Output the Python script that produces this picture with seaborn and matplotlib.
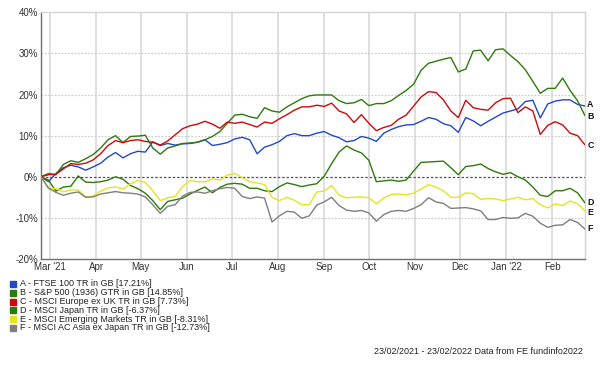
import matplotlib
matplotlib.use("Agg")
import matplotlib.pyplot as plt
from matplotlib.patches import Rectangle
import seaborn as sns
import pandas as pd
import numpy as np

# 5-day sampled cumulative returns, 23/02/2021 -> 23/02/2022
dates = pd.date_range("2021-02-23", "2022-02-23", periods=74)

ftse100 = [0, -1.2, 0.8, 2.2, 2.8, 2.4, 1.6, 2.4, 3.3, 4.8, 5.9, 4.6, 5.6, 6.2, 6.0, 8.5,
           7.6, 8.1, 7.7, 8.0, 8.1, 8.4, 9.0, 7.6, 7.9, 8.3, 9.2, 9.6, 9.0, 5.6, 7.2, 7.8,
           8.6, 10.0, 10.5, 10.0, 10.0, 10.6, 11.0, 10.1, 9.5, 8.5, 8.8, 9.8, 9.4, 8.6, 10.6,
           11.5, 12.2, 12.6, 12.7, 13.5, 14.4, 14.0, 12.9, 12.4, 10.8, 14.4, 13.6, 12.4, 13.5,
           14.5, 15.5, 16.0, 16.5, 18.3, 18.6, 14.3, 17.7, 18.4, 18.7, 18.7, 17.6, 17.21]
sp500 = [0, 0.8, 0.5, 3.0, 3.9, 3.5, 4.4, 5.4, 7.0, 9.0, 10.0, 8.3, 9.8, 9.9, 10.1, 7.0,
         5.5, 7.0, 7.5, 8.1, 8.2, 8.4, 9.0, 9.8, 11.0, 13.0, 15.0, 15.2, 14.6, 14.2, 16.8,
         16.0, 15.7, 17.0, 18.0, 19.0, 19.7, 19.9, 19.9, 19.9, 18.5, 17.8, 18.0, 18.8, 17.3,
         17.8, 17.8, 18.5, 19.8, 21.0, 22.5, 25.9, 27.6, 28.1, 28.6, 29.0, 25.5, 26.2, 30.6,
         30.8, 28.2, 30.9, 31.1, 29.5, 28.0, 26.0, 23.2, 20.3, 21.5, 21.5, 24.0, 21.0, 18.5, 14.85]
europe_ex_uk = [0, 0.5, 0.6, 1.9, 3.2, 3.0, 3.3, 4.1, 5.6, 7.6, 8.8, 8.3, 8.8, 9.0, 8.6, 8.4,
                7.7, 8.7, 10.2, 11.7, 12.4, 12.8, 13.5, 12.8, 11.8, 13.3, 13.0, 13.3, 12.7, 12.1,
                13.3, 13.0, 14.1, 15.1, 16.2, 17.0, 17.0, 17.4, 17.1, 17.9, 16.0, 15.3, 13.2, 15.1,
                13.0, 11.2, 12.0, 12.5, 14.0, 15.0, 17.2, 19.4, 20.7, 20.5, 18.7, 16.0, 14.4, 18.6,
                16.8, 16.4, 16.2, 18.0, 19.0, 19.1, 15.6, 17.0, 16.0, 10.3, 12.5, 13.4, 12.6, 10.6,
                10.0, 7.73]
japan = [0, -0.8, -3.5, -2.5, -2.3, 0.2, -1.3, -1.4, -1.2, -0.8, 0.0, -0.6, -2.1, -2.9, -4.0,
         -5.8, -8.0, -6.0, -5.6, -5.2, -4.2, -3.3, -2.5, -3.9, -2.6, -1.8, -1.6, -1.8, -2.8, -2.8,
         -3.4, -3.6, -2.4, -1.5, -1.9, -2.4, -2.0, -1.7, 0.1, 3.2, 6.0, 7.5, 6.5, 5.8, 4.0, -1.2,
         -1.0, -0.8, -1.1, -0.8, 1.4, 3.5, 3.6, 3.7, 3.8, 2.2, 0.5, 2.5, 2.7, 3.1, 2.0, 1.2, 0.6,
         1.0, 0.0, -0.8, -2.5, -4.5, -4.8, -3.4, -3.4, -2.8, -3.9, -6.37]
emerging = [0, -3.0, -2.8, -3.7, -3.2, -3.2, -4.9, -4.7, -3.5, -2.7, -2.5, -3.0, -1.7, -0.9,
            -1.4, -3.4, -5.8, -5.1, -4.8, -2.4, -0.9, -1.2, -1.2, -0.5, -0.8, 0.4, 0.8, -0.2, -1.2,
            -1.5, -1.9, -5.0, -5.8, -5.0, -5.7, -6.8, -6.8, -3.7, -3.5, -2.1, -4.5, -5.1, -5.0,
            -4.9, -5.1, -6.6, -5.2, -4.3, -4.2, -4.4, -4.0, -3.0, -1.9, -2.5, -3.4, -5.0, -5.0,
            -3.9, -4.1, -5.5, -5.3, -5.4, -5.8, -5.4, -5.0, -5.6, -5.3, -6.8, -7.6, -6.6, -7.0,
            -5.9, -6.5, -8.31]
asia_ex_japan = [0, -2.7, -3.8, -4.5, -4.0, -3.7, -5.0, -4.9, -4.2, -3.9, -3.6, -3.9, -4.0,
                 -4.2, -4.9, -6.8, -8.9, -7.2, -6.8, -4.7, -3.8, -3.7, -4.0, -3.4, -2.9, -2.6,
                 -2.8, -4.8, -5.3, -4.9, -5.2, -11.0, -9.5, -8.4, -8.6, -10.1, -9.5, -6.9, -6.1,
                 -5.0, -7.0, -8.1, -8.4, -8.2, -8.8, -10.8, -9.2, -8.4, -8.2, -8.4, -7.7, -6.8,
                 -5.1, -6.1, -6.5, -7.7, -7.6, -7.5, -7.8, -8.3, -10.4, -10.4, -9.9, -10.1, -10.0,
                 -8.9, -9.6, -11.3, -12.3, -11.8, -11.7, -10.4, -11.1, -12.73]

series_labels = ["A - FTSE 100 TR in GB [17.21%]",
                 "B - S&P 500 (1936) GTR in GB [14.85%]",
                 "C - MSCI Europe ex UK TR in GB [7.73%]",
                 "D - MSCI Japan TR in GB [-6.37%]",
                 "E - MSCI Emerging Markets TR in GB [-8.31%]",
                 "F - MSCI AC Asia ex Japan TR in GB [-12.73%]"]
series_letters = ["A", "B", "C", "D", "E", "F"]
series_values = [ftse100, sp500, europe_ex_uk, japan, emerging, asia_ex_japan]
colors = ["#2249c4", "#2f7a0c", "#cc0a0a", "#2f7a0c", "#e2e61e", "#7f7f7f"]
# where the end letters sit (in %)
end_label_y = [17.5, 14.7, 7.7, -6.2, -8.6, -12.7]

frames = []
for lab, vals in zip(series_labels, series_values):
    frames.append(pd.DataFrame({"date": dates, "value": vals, "series": lab}))
df = pd.concat(frames, ignore_index=True)

sns.set_style("white")
plt.rcParams["font.family"] = ["Liberation Sans", "DejaVu Sans"]

fig = plt.figure(figsize=(6.02, 3.75), dpi=100)
ax = fig.add_axes([41 / 602, 1 - 259 / 375, 544 / 602, 246.7 / 375])

sns.lineplot(data=df, x="date", y="value", hue="series", palette=colors,
             linewidth=1.0, legend=False, ax=ax, zorder=3)

ax.set_xlim(pd.Timestamp("2021-02-23"), pd.Timestamp("2022-02-23"))
ax.set_ylim(-20, 40)
ax.set_yticks(np.arange(-20, 41, 10))
ax.set_yticklabels([f"{v}%" for v in range(-20, 41, 10)])

months = pd.date_range("2021-03-01", "2022-02-01", freq="MS")
month_labels = ["Mar '21", "Apr", "May", "Jun", "Jul", "Aug", "Sep", "Oct", "Nov", "Dec",
                "Jan '22", "Feb"]
ax.set_xticks(months)
ax.set_xticklabels(month_labels)

ax.tick_params(axis="both", labelsize=7, colors="#333333", length=0, pad=2)
ax.set_xlabel("")
ax.set_ylabel("")

for m in months:
    ax.axvline(m, color="#dcdcdc", linewidth=1.3, zorder=1)
for v in [-10, 10, 20, 30]:
    ax.axhline(v, color="#c8c8c8", linewidth=0.8, linestyle=(0, (1.5, 1.5)), zorder=1)
ax.axhline(0, color="#555555", linewidth=0.9, linestyle=(0, (2, 1.5)), zorder=2)

for side in ["top", "right"]:
    ax.spines[side].set_color("#d4d4d4")
    ax.spines[side].set_linewidth(1.0)
for side in ["left", "bottom"]:
    ax.spines[side].set_color("#707070")
    ax.spines[side].set_linewidth(1.0)

for letter, yv in zip(series_letters, end_label_y):
    ax.text(1.004, yv, letter, transform=ax.get_yaxis_transform(), fontsize=6.3,
            fontweight="bold", va="center", ha="left", color="#111111")

# legend block
for i, (lab, col) in enumerate(zip(series_labels, colors)):
    y = 1 - (284 + i * 8.8) / 375
    fig.patches.append(Rectangle((10 / 602, y - 3 / 375), 6 / 602, 6 / 375,
                                 transform=fig.transFigure, color=col, zorder=5))
    fig.text(20 / 602, y, lab, fontsize=6.5, va="center", ha="left", color="#222222")

fig.text(583 / 602, 1 - 351 / 375, "23/02/2021 - 23/02/2022 Data from FE fundinfo2022",
         fontsize=6.5, ha="right", va="center", color="#222222")

fig.savefig("out.png", dpi=100)
